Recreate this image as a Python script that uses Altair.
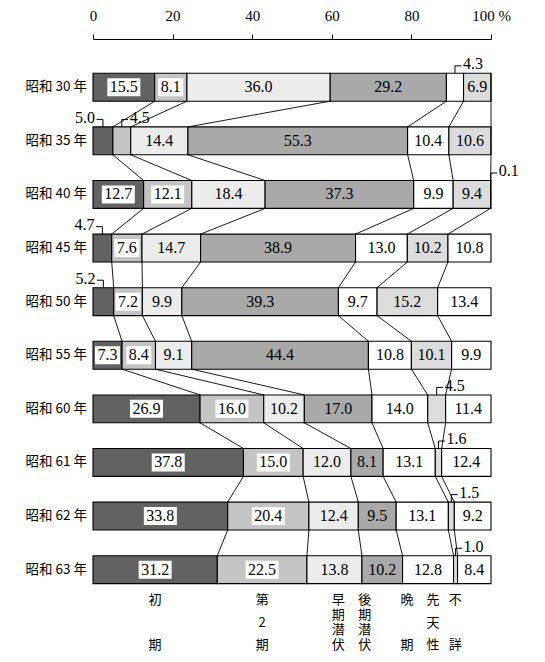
import altair as alt
import pandas as pd

years = ["昭和 30 年", "昭和 35 年", "昭和 40 年", "昭和 45 年", "昭和 50 年",
         "昭和 55 年", "昭和 60 年", "昭和 61 年", "昭和 62 年", "昭和 63 年"]
categories = ["初期", "第2期", "早期潜伏", "後期潜伏", "晩期", "先天性", "不詳"]
v_primary = [15.5, 5.0, 12.7, 4.7, 5.2, 7.3, 26.9, 37.8, 33.8, 31.2]
v_second = [8.1, 4.5, 12.1, 7.6, 7.2, 8.4, 16.0, 15.0, 20.4, 22.5]
v_early = [36.0, 14.4, 18.4, 14.7, 9.9, 9.1, 10.2, 12.0, 12.4, 13.8]
v_late = [29.2, 55.3, 37.3, 38.9, 39.3, 44.4, 17.0, 8.1, 9.5, 10.2]
v_tertiary = [4.3, 10.4, 9.9, 13.0, 9.7, 10.8, 14.0, 13.1, 13.1, 12.8]
v_congenital = [6.9, 10.6, 9.4, 10.2, 15.2, 10.1, 4.5, 1.6, 1.5, 1.0]
v_unknown = [0.0, 0.0, 0.1, 10.8, 13.4, 9.9, 11.4, 12.4, 9.2, 8.4]

# small segments labelled outside the bar: (row, category index, side)
outside = [(0, 4, "right"), (1, 0, "left"), (1, 1, "right"), (2, 6, "right"),
           (3, 0, "left"), (4, 0, "left"), (6, 5, "right"), (7, 5, "right"),
           (8, 5, "right"), (9, 5, "right")]

# bottom category captions: characters and the line slot (0..3) each sits on
cap_chars = [["初", "期"], ["第", "2", "期"], ["早", "期", "潜", "伏"], ["後", "期", "潜", "伏"],
             ["晩", "期"], ["先", "天", "性"], ["不", "詳"]]
cap_slots = [[0, 3], [0, 1.5, 3], [0, 1, 2, 3], [0, 1, 2, 3], [0, 3], [0, 1.5, 3], [0, 3]]
cap_x = [15.6, 42.5, 61.6, 68.3, 78.9, 85.4, 91.0]

fills = ["#626262", "#c4c4c4", "#ececec", "#a9a9a9", "#ffffff", "#dcdcdc", "#ffffff"]

series = [v_primary, v_second, v_early, v_late, v_tertiary, v_congenital, v_unknown]
HALF = 0.26

out_keys = {(r, k): s for r, k, s in outside}

rows, cums = [], []
for i, yr in enumerate(years):
    vals = [s[i] for s in series]
    tot = sum(vals)
    c = 0.0
    cum_row = []
    for k, v in enumerate(vals):
        x0 = c * 100 / tot
        c += v
        x1 = c * 100 / tot
        cum_row.append(x1)
        rows.append(dict(idx=i, year=yr, cat=categories[k], k=k, value=v,
                         x0=x0, x1=x1, mid=(x0 + x1) / 2,
                         ytop=i - HALF, ybot=i + HALF,
                         label=f"{v:.1f}",
                         is_out=(i, k) in out_keys))
    cums.append(cum_row)
df = pd.DataFrame(rows)

inside = df[(df["value"] > 0) & (~df["is_out"])].copy()
boxed = inside[inside["k"].isin([0, 1])].copy()
boxed["shape"] = [("M-1.55,-0.8L1.55,-0.8L1.55,0.8L-1.55,0.8Z" if len(l) >= 4
                   else "M-1.15,-0.8L1.15,-0.8L1.15,0.8L-1.15,0.8Z") for l in boxed["label"]]

orows = []
for r, k, side in outside:
    d = df[(df["idx"] == r) & (df["k"] == k)].iloc[0]
    sgn = 1 if side == "right" else -1
    orows.append(dict(mid=d["mid"], elbow=d["mid"] + sgn * 1.6, tx=d["mid"] + sgn * 2.0,
                      ytop=r - HALF, yel=r - 0.40, ytx=r - 0.43,
                      label=d["label"], side=side))
odf = pd.DataFrame(orows)

crows = []
for i in range(len(years) - 1):
    for k in range(6):
        crows.append(dict(x=cums[i][k], x2=cums[i + 1][k], y=i + HALF, y2=i + 1 - HALF))
cdf = pd.DataFrame(crows)

ydf = pd.DataFrame(dict(idx=list(range(len(years))), year=years))

caprows = []
for chars, slots, x in zip(cap_chars, cap_slots, cap_x):
    for ch, s in zip(chars, slots):
        caprows.append(dict(ch=ch, x=x, py=561 + s * 15))
capdf = pd.DataFrame(caprows)

xs = alt.Scale(domain=[0, 100], nice=False)
ys = alt.Scale(domain=[-0.9, 10.2], reverse=True, nice=False, zero=False)


def X(f):
    return alt.X(f, scale=xs)


def Y(f):
    return alt.Y(f, scale=ys, axis=None)


bars = alt.Chart(df).mark_rect(stroke="black", strokeWidth=1.1).encode(
    x=alt.X("x0:Q", scale=xs, axis=alt.Axis(
        orient="top", values=list(range(0, 101, 10)), title=None, grid=False,
        labelExpr="datum.value % 20 == 0 ? (datum.value == 100 ? '100 %' : datum.label) : ''",
        tickSize=5, labelPadding=11, labelFont="Liberation Serif", labelFontSize=15,
        labelColor="black", tickColor="black", domainColor="black", labelFlush=False)),
    x2="x1:Q",
    y=Y("ytop:Q"),
    y2="ybot:Q",
    fill=alt.Fill("cat:N", scale=alt.Scale(domain=categories, range=fills), legend=None),
)

conn = alt.Chart(cdf).mark_rule(color="black", strokeWidth=0.9).encode(
    x=X("x:Q"), x2="x2:Q", y=Y("y:Q"), y2="y2:Q")

boxes = alt.Chart(boxed).mark_point(filled=True, fill="white", stroke="white", opacity=1).encode(
    x=X("mid:Q"), y=Y("idx:Q"),
    shape=alt.Shape("shape:N", scale=None), size=alt.value(400))

texts = alt.Chart(inside).mark_text(font="Liberation Serif", fontSize=16, baseline="middle",
                                    color="black").encode(
    x=X("mid:Q"), y=Y("idx:Q"), text="label:N")

lead_v = alt.Chart(odf).mark_rule(color="black", strokeWidth=1).encode(
    x=X("mid:Q"), y=Y("ytop:Q"), y2="yel:Q")
lead_h = alt.Chart(odf).mark_rule(color="black", strokeWidth=1).encode(
    x=X("mid:Q"), x2="elbow:Q", y=Y("yel:Q"))
otext_r = alt.Chart(odf[odf["side"] == "right"]).mark_text(
    font="Liberation Serif", fontSize=16, align="left", baseline="middle", color="black").encode(
    x=X("tx:Q"), y=Y("ytx:Q"), text="label:N")
otext_l = alt.Chart(odf[odf["side"] == "left"]).mark_text(
    font="Liberation Serif", fontSize=16, align="right", baseline="middle", color="black").encode(
    x=X("tx:Q"), y=Y("ytx:Q"), text="label:N")

ylab = alt.Chart(ydf).mark_text(font="Noto Sans CJK JP", fontSize=13.5, align="right",
                                baseline="middle", color="black").encode(
    x=alt.value(-6), y=Y("idx:Q"), text="year:N")

caps = alt.Chart(capdf).mark_text(
    font="Noto Sans CJK JP", fontSize=13, align="center", baseline="middle",
    color="black").encode(
    x=X("x:Q"), y=alt.Y("py:Q", scale=None, axis=None), text="ch:N")

chart = alt.layer(bars, conn, boxes, texts, lead_v, lead_h, otext_r, otext_l, ylab, caps).properties(
    width=398, height=595,
    padding={"left": 85, "top": 31, "right": 40, "bottom": 25},
    autosize=alt.AutoSizeParams(type="none"),
    background="white",
).configure_view(stroke=None)

chart.save("out.html", embed_options={"renderer": "svg", "actions": False})
